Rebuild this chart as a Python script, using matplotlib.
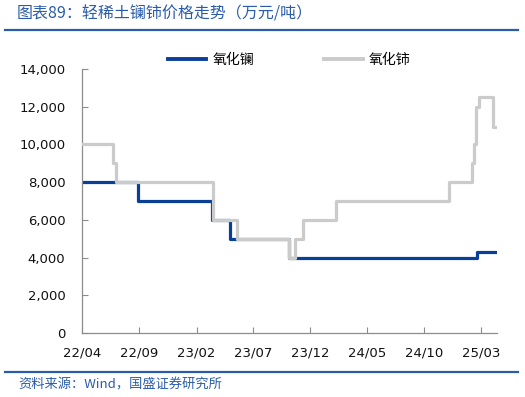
import matplotlib
matplotlib.use("Agg")
import matplotlib.pyplot as plt
import pandas as pd
from matplotlib.lines import Line2D

# 氧化镧 price steps (date the price changed, value in 元/吨)
la_dates = ["2022-04-01", "2022-08-29", "2023-03-14", "2023-05-01",
            "2023-10-06", "2025-02-18", "2025-04-13"]
la_values = [8000, 7000, 6000, 5000, 4000, 4300, 4300]

# 氧化铈 price steps
ce_dates = ["2022-04-01", "2022-06-22", "2022-07-02", "2023-03-17", "2023-05-20",
            "2023-10-06", "2023-10-22", "2023-11-12", "2024-02-08", "2024-12-06",
            "2025-02-04", "2025-02-11", "2025-02-15", "2025-02-25", "2025-04-01",
            "2025-04-13"]
ce_values = [10000, 9000, 8000, 6000, 5000, 4000, 5000, 6000, 7000, 8000,
             9000, 10000, 12000, 12500, 10900, 10900]

series_names = ["氧化镧", "氧化铈"]
title_text = "图表89：轻稀土镧铈价格走势（万元/吨）"
source_text = "资料来源：Wind，国盛证券研究所"

blue = "#0a3f98"
grey = "#cbcbcb"
rule_blue = "#2a5caa"
cjk = ["Noto Sans CJK SC", "DejaVu Sans"]

plt.rcParams["font.family"] = ["DejaVu Sans", "Noto Sans CJK SC"]

fig = plt.figure(figsize=(5.25, 3.97), dpi=100)
ax = fig.add_axes([82 / 525, 1 - 333 / 397, (497 - 82) / 525, (333 - 69) / 397])

la_x = pd.to_datetime(la_dates)
ce_x = pd.to_datetime(ce_dates)
ax.step(la_x, la_values, where="post", color=blue, lw=2.3, zorder=2)
ax.step(ce_x, ce_values, where="post", color=grey, lw=2.3, zorder=3)

ax.set_xlim(pd.Timestamp("2022-04-01"), pd.Timestamp("2025-04-13"))
ax.set_ylim(0, 14000)
ax.set_yticks(range(0, 14001, 2000))
ax.yaxis.set_major_formatter(matplotlib.ticker.FuncFormatter(lambda v, p: f"{int(v):,}"))
ticks = pd.date_range("2022-04-01", "2025-03-01", freq="5MS")
ax.set_xticks(ticks)
ax.set_xticklabels([d.strftime("%y/%m") for d in ticks])

for s in ["top", "right"]:
    ax.spines[s].set_visible(False)
for s in ["left", "bottom"]:
    ax.spines[s].set_color("#8c8c8c")
    ax.spines[s].set_linewidth(0.9)
ax.tick_params(axis="both", direction="in", length=4, color="#8c8c8c",
               labelsize=9.5, labelcolor="#111111")
ax.tick_params(axis="x", pad=10)
ax.tick_params(axis="y", pad=12)

handles = [Line2D([], [], color=blue, lw=2.8), Line2D([], [], color=grey, lw=2.8)]
fig.legend(handles, series_names, loc="center", bbox_to_anchor=(289 / 525, 1 - 60 / 397),
           ncol=2, frameon=False, handlelength=2.8, columnspacing=5.0,
           handletextpad=0.45, prop={"family": cjk, "size": 10})

# title, rules and source line
fig.text(17 / 525, 1 - 14 / 397, title_text, ha="left", va="center",
         color=rule_blue, fontsize=11.5, family=cjk, style="italic")
fig.add_artist(Line2D([5 / 525, 518 / 525], [1 - 30 / 397] * 2, color=rule_blue, lw=1.6))
fig.add_artist(Line2D([5 / 525, 518 / 525], [1 - 372 / 397] * 2, color=rule_blue, lw=1.6))
fig.text(18 / 525, 1 - 385 / 397, source_text, ha="left", va="center",
         color=rule_blue, fontsize=9.5, family=cjk, style="italic")

fig.savefig("out.png", dpi=100)
